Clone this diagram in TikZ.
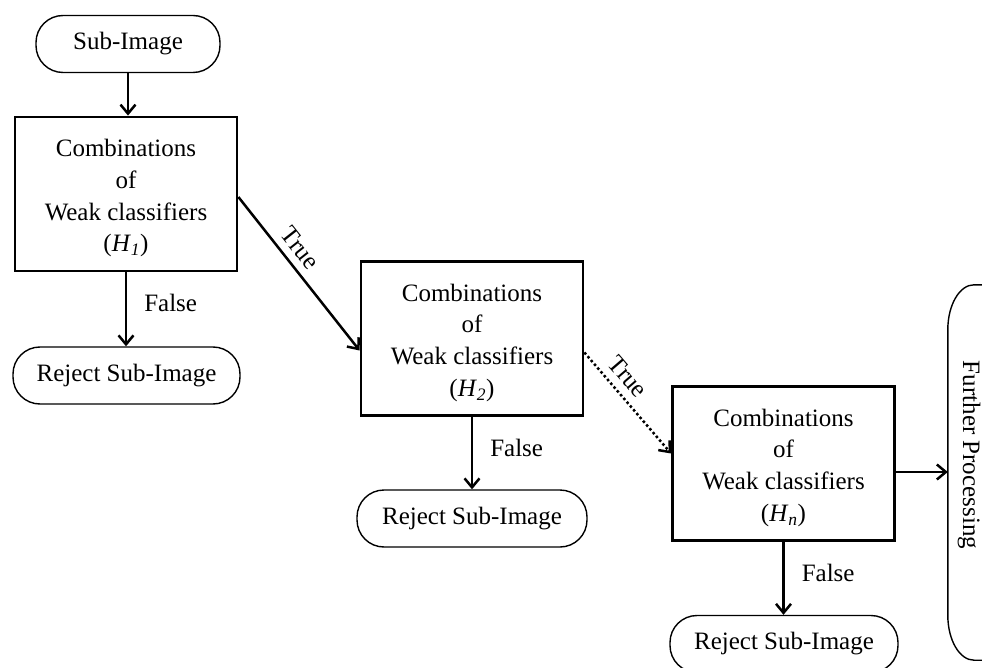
\documentclass[tikz,border=0pt]{standalone}
\usepackage{fontspec}
\setmainfont{Liberation Serif}
\usetikzlibrary{arrows.meta,calc}
\begin{document}
\begin{tikzpicture}[x=1pt,y=-1pt,
  every node/.style={font=\fontsize{25}{31.7}\selectfont},
  procbox/.style={draw, line width=2.8pt, minimum width=222pt, minimum height=154pt,
                  align=center, inner sep=0pt},
  term/.style={draw, line width=1.4pt, rounded corners=27pt, minimum height=57pt, inner sep=0pt},
  arr/.style={line width=2.5pt, -{Straight Barb[length=9pt,width=15pt]}},
  lbl/.style={inner sep=0pt}
]
\useasboundingbox (0,0) rectangle (982,668);
\newcommand{\boxtext}[1]{\rule{0pt}{26pt}Combinations\\of\\Weak classifiers\\(\textit{H}\textsubscript{\textit{#1}})}

% stages of the cascade
\node[term, minimum width=184pt] (src) at (128,44) {Sub-Image};
\node[procbox] (h1) at (126,194) {\boxtext{1}};
\node[term, minimum width=227pt] (rej1) at (126.5,375.5) {Reject Sub-Image};

\node[procbox] (h2) at (472,338.5) {\boxtext{2}};
\node[term, minimum width=230pt] (rej2) at (472,518.5) {Reject Sub-Image};

\node[procbox] (h3) at (783.5,463.5) {\boxtext{n}};
\node[term, minimum width=228pt] (rej3) at (784,644) {Reject Sub-Image};

% tall terminator with elliptical ends
\node[minimum width=52pt, minimum height=375pt, inner sep=0pt] (fp) at (974,472.5) {};
\draw[line width=1.4pt] (fp.north east) -- (fp.north)
  .. controls ($(fp.north)+(-14.4,0)$) and ($(fp.north west)+(0,20)$) .. ($(fp.north west)+(0,45)$)
  -- ($(fp.south west)+(0,-45)$)
  .. controls ($(fp.south west)+(0,-20)$) and ($(fp.south)+(-14.4,0)$) .. (fp.south)
  -- (fp.south east);
\node[rotate=-90, inner sep=0pt] (fptext) at (969,455) {Further Processing};

% connectors
\draw[arr] (src.south) -- (src.south |- h1.north);
\draw[arr] (h1.south) -- (h1.south |- rej1.north)
  node[lbl, pos=0.42, right=17pt] {False};
\draw[arr] ($(h1.east)+(0,3)$) -- ($(h2.west)+(0,12)$)
  node[lbl, sloped, pos=0.4, above=7pt] {True};

\draw[arr] (h2.south) -- (h2.south |- rej2.north)
  node[lbl, pos=0.43, right=17pt] {False};
\draw[arr, dash pattern=on 2.5pt off 2.5pt] ($(h2.east)+(0,14)$) -- ($(h3.west)+(0,-10)$)
  node[lbl, sloped, pos=0.35, above=8pt] {True};

\draw[arr] (h3.south) -- (h3.south |- rej3.north)
  node[lbl, pos=0.43, right=17pt] {False};
\coordinate (out) at ($(h3.east)+(0,8.5)$);
\draw[arr] (out) -- (out -| fp.west);
\end{tikzpicture}
\end{document}
